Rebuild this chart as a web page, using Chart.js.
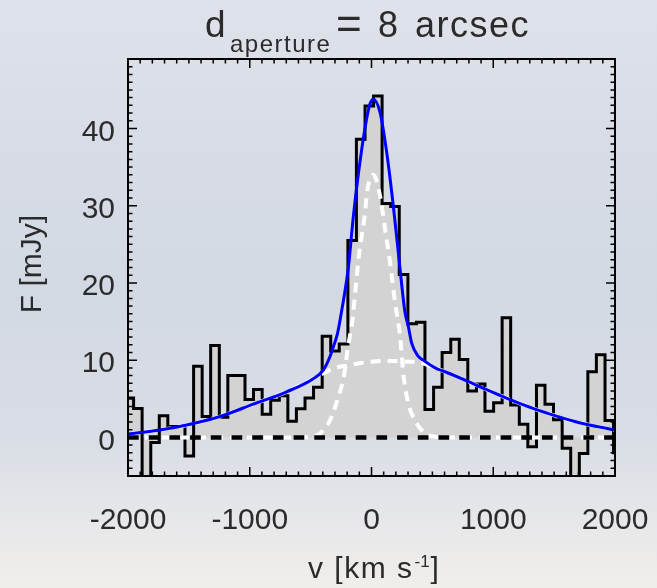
<!DOCTYPE html>
<html>
<head>
<meta charset="utf-8">
<script src="https://cdn.jsdelivr.net/npm/chart.js@4.4.0/dist/chart.umd.min.js"></script>
<style>
  html, body { margin: 0; padding: 0; }
  body {
    width: 657px; height: 588px; overflow: hidden;
    background: linear-gradient(180deg, #dfe2ea 0%, #d7dce6 25%, #d3d9e3 50%, #d9dde5 75%, #e6e7ea 88%, #f1eeea 100%);
  }
  canvas { display: block; }
</style>
</head>
<body>
<canvas id="spectrum" width="657" height="588"></canvas>
<script>
// observed spectrum: bin edges (km/s) and flux per bin (mJy)
const binEdges = [-2025, -1954, -1884, -1813, -1743, -1673, -1602, -1532, -1461, -1391,
  -1321, -1250, -1180, -1109, -1039, -969, -898, -828, -757, -687,
  -617, -546, -476, -405, -335, -265, -194, -124, -53, 17,
  87, 158, 228, 299, 369, 439, 510, 580, 651, 721,
  791, 862, 932, 1003, 1073, 1143, 1214, 1284, 1355, 1425,
  1495, 1566, 1636, 1707, 1777, 1847, 1918, 1988, 2059];
const binFlux = [5.1, 3.75, -8, -0.65, 2.8, 1.4, 1.4, -2.4, 9.2, 2.7,
  11.9, 2.6, 8.0, 8.0, 4.9, 6.2, 3.0, 4.8, 5.4, 2.1,
  3.7, 5.1, 6.5, 13.1, 11.2, 12.1, 25.5, 38.6, 42.9, 44.2,
  30.3, 29.9, 21.1, 14.7, 14.9, 3.6, 6.5, 11.0, 12.7, 10.1,
  6.0, 6.9, 3.4, 4.5, 15.5, 4.2, 1.7, -1.2, 6.75, 4.3,
  2.3, -1.4, -8, -2.1, 8.5, 10.7, 2.2, -2.0];

// total fit (blue)
const modelV = [-2000, -1737, -1518, -1244, -971, -697, -478, -396, -340, -314, -280, -245,
  -190, -150, -108, -53, -12, 15, 70, 125, 179, 226, 275, 302, 330, 380, 425,
  535, 590, 864, 1138, 1411, 1685, 2000];
const modelF = [0.43, 0.95, 1.6, 2.7, 4.3, 5.9, 7.6, 8.7, 10.5, 11.7, 13.4, 16.4,
  22, 28.5, 34.1, 40.1, 43.2, 43.8, 42.1, 36.9, 30, 23.1, 16.2, 14.4, 12.2, 10.6, 10.0,
  8.9, 8.6, 6.75, 4.9, 3.3, 2.0, 0.95];

// narrow component (white dashed)
const narrowV = [-2000, -600, -500, -423, -341, -273, -223, -196, -155, -128, -100, -59, -32,
  15, 70, 111, 152, 193, 234, 264, 302, 357, 439, 520, 620, 2000];
const narrowF = [0, 0, 0.1, 0.5, 2.2, 5.2, 8.2, 11.4, 15.4, 19.7, 24, 28.3, 32.2,
  34.0, 31.3, 27, 22.7, 17.5, 13.2, 7.9, 4.4, 2.2, 0.5, 0.1, 0, 0];

// broad component (white dashed)
const broadV = [-2000, -1737, -1518, -1244, -971, -697, -478, -396, -300, -200, -100, 0,
  100, 200, 300, 400, 535, 590, 864, 1138, 1411, 1685, 2000];
const broadF = [0.43, 0.95, 1.6, 2.7, 4.3, 5.9, 7.6, 8.3, 9.0, 9.3, 9.6, 9.8,
  9.9, 9.9, 9.8, 9.7, 8.9, 8.6, 6.75, 4.9, 3.3, 2.0, 0.95];

const zeroV = [-2000, 2000];
const zeroF = [0, 0];

const xTicks = [-2000, -1000, 0, 1000, 2000];
const yTicks = [0, 10, 20, 30, 40];

const xMin = -2000, xMax = 2000;
const yMin = -5, yMax = 49;

const textColor = '#2b2b2b';
const fontFamily = '"Liberation Sans", Arial, Helvetica, sans-serif';

const toPoints = (xs, ys) => xs.map((v, i) => ({ x: v, y: ys[i] }));
const histPoints = binEdges.map((e, i) => ({ x: e, y: binFlux[Math.min(i, binFlux.length - 1)] }));

// inward ticks on all four sides + box
const frameTicks = {
    id: 'frameTicks',
    afterDatasetsDraw(chart) {
        const { ctx, chartArea: a, scales: { x, y } } = chart;
        ctx.save();
        ctx.strokeStyle = '#000';
        ctx.lineWidth = 1.5;
        ctx.beginPath();
        for (let v = xMin; v <= xMax; v += 100) {
            const px = x.getPixelForValue(v);
            const len = v % 1000 === 0 ? 9 : 4.5;
            ctx.moveTo(px, a.bottom); ctx.lineTo(px, a.bottom - len);
            ctx.moveTo(px, a.top); ctx.lineTo(px, a.top + len);
        }
        for (let v = yMin; v <= yMax; v += 1) {
            const py = y.getPixelForValue(v);
            const len = v % 10 === 0 ? 9 : 4.5;
            ctx.moveTo(a.left, py); ctx.lineTo(a.left + len, py);
            ctx.moveTo(a.right, py); ctx.lineTo(a.right - len, py);
        }
        ctx.stroke();
        ctx.lineWidth = 2;
        ctx.strokeRect(a.left, a.top, a.right - a.left, a.bottom - a.top);
        ctx.restore();
    }
};

// title and axis titles (with sub/superscripts)
const labels = {
    id: 'labels',
    afterDraw(chart) {
        const { ctx } = chart;
        ctx.save();
        ctx.fillStyle = textColor;
        ctx.textBaseline = 'alphabetic';
        ctx.textAlign = 'left';

        ctx.font = '37px ' + fontFamily;
        ctx.fillText('d', 205, 37);
        ctx.font = '24px ' + fontFamily;
        ctx.letterSpacing = '1.5px';
        ctx.fillText('aperture', 230, 52);
        ctx.letterSpacing = '0px';
        ctx.font = '44px ' + fontFamily;
        ctx.fillText('=', 336, 39);
        ctx.font = '36px ' + fontFamily;
        ctx.fillText('8', 378, 37);
        ctx.letterSpacing = '1.5px';
        ctx.fillText('arcsec', 415, 37);

        ctx.font = '30px ' + fontFamily;
        ctx.letterSpacing = '1.5px';
        const main = 'v [km s';
        ctx.fillText(main, 308, 578);
        let xx = 308 + ctx.measureText(main).width;
        ctx.font = '17px ' + fontFamily;
        ctx.letterSpacing = '0px';
        ctx.fillText('-1', xx + 1, 567);
        xx += ctx.measureText('-1').width + 2;
        ctx.font = '30px ' + fontFamily;
        ctx.fillText(']', xx, 578);

        ctx.translate(41, 264);
        ctx.rotate(-Math.PI / 2);
        ctx.textAlign = 'center';
        ctx.fillText('F [mJy]', 0, 0);
        ctx.restore();
    }
};

new Chart(document.getElementById('spectrum'), {
    type: 'line',
    data: {
        datasets: [
            {
                label: 'fit',
                data: toPoints(modelV, modelF),
                borderColor: '#0000ff',
                borderWidth: 3,
                cubicInterpolationMode: 'monotone',
                pointRadius: 0,
                fill: false,
                order: 1
            },
            {
                label: 'zero',
                data: toPoints(zeroV, zeroF),
                borderColor: '#000',
                borderWidth: 4.5,
                borderDash: [10.7, 10],
                pointRadius: 0,
                fill: false,
                order: 2
            },
            {
                label: 'broad',
                data: toPoints(broadV, broadF),
                borderColor: '#ffffff',
                borderWidth: 4,
                borderDash: [10, 7],
                cubicInterpolationMode: 'monotone',
                pointRadius: 0,
                fill: false,
                order: 3
            },
            {
                label: 'narrow',
                data: toPoints(narrowV, narrowF),
                borderColor: '#ffffff',
                borderWidth: 4,
                borderDash: [10, 7],
                cubicInterpolationMode: 'monotone',
                pointRadius: 0,
                fill: false,
                order: 4
            },
            {
                label: 'spectrum',
                data: histPoints,
                stepped: true,
                borderColor: '#000',
                borderWidth: 3,
                borderJoinStyle: 'miter',
                backgroundColor: '#d3d3d3',
                fill: 'origin',
                pointRadius: 0,
                order: 5
            }
        ]
    },
    options: {
        responsive: false,
        animation: false,
        events: [],
        devicePixelRatio: 1,
        layout: { padding: { top: 59, right: 42, left: 0, bottom: 0 } },
        plugins: {
            legend: { display: false },
            tooltip: { enabled: false },
            title: { display: false }
        },
        scales: {
            x: {
                type: 'linear',
                min: xMin,
                max: xMax,
                grid: { display: false, drawTicks: false },
                border: { display: false },
                afterBuildTicks: scale => { scale.ticks = xTicks.map(v => ({ value: v })); },
                afterFit: scale => {
                    scale.height = 112;
                    scale.paddingLeft = 0;
                    scale.paddingRight = 0;
                },
                ticks: {
                    padding: 27,
                    maxRotation: 0,
                    color: textColor,
                    font: { family: fontFamily, size: 30 },
                    callback: v => String(v)
                }
            },
            y: {
                type: 'linear',
                min: yMin,
                max: yMax,
                grid: { display: false, drawTicks: false },
                border: { display: false },
                afterBuildTicks: scale => { scale.ticks = yTicks.map(v => ({ value: v })); },
                afterFit: scale => {
                    scale.width = 128;
                    scale.paddingTop = 0;
                    scale.paddingBottom = 0;
                },
                ticks: {
                    padding: 13,
                    labelOffset: 4,
                    color: textColor,
                    font: { family: fontFamily, size: 30 },
                    callback: v => String(v)
                }
            }
        }
    },
    plugins: [frameTicks, labels]
});
</script>
</body>
</html>
